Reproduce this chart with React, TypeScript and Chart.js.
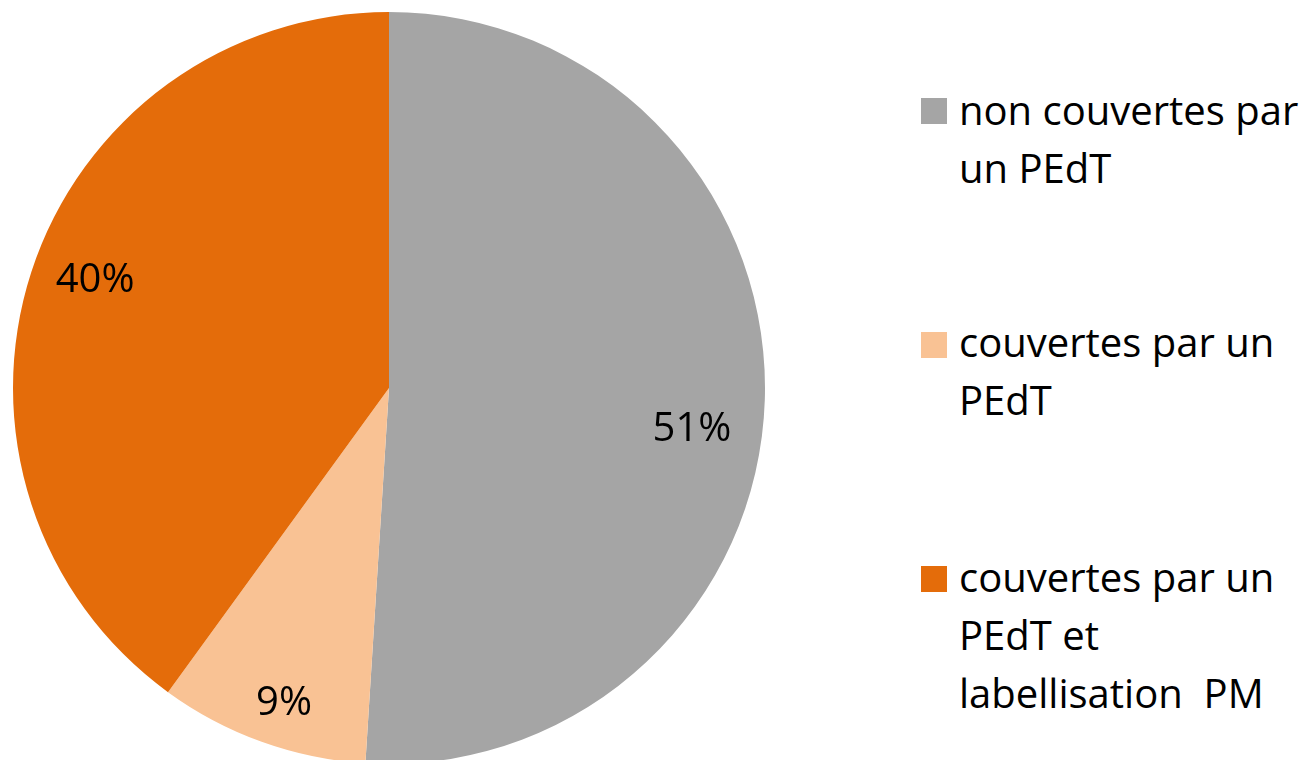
import React, { useEffect, useRef } from "react";
import { Chart, registerables } from "chart.js";

Chart.register(...registerables);

const categories = [
  "non couvertes par un PEdT",
  "couvertes par un PEdT",
  "couvertes par un PEdT et labellisation PM",
];
const values = [51, 9, 40];
const valueLabels = ["51%", "9%", "40%"];
const legendLines = [
  ["non couvertes par", "un PEdT"],
  ["couvertes par un", "PEdT"],
  ["couvertes par un", "PEdT et", "labellisation\u00a0 PM"],
];
const colors = ["#A5A5A5", "#F9C294", "#E46C0A"];

// label placement style (angle nudge in degrees, radial fraction)
const labelAngleShift = [5.35, -1.25, 2.6];
const labelRadial = [0.812, 0.878, 0.835];

const FONT = "'Open Sans', 'DejaVu Sans', sans-serif";

const labelPlugin = {
  id: "sliceLabels",
  afterDatasetsDraw(chart: any) {
    const ctx = chart.ctx;
    const meta = chart.getDatasetMeta(0);
    ctx.save();
    ctx.font = `40px ${FONT}`;
    ctx.fillStyle = "#000000";
    ctx.textAlign = "center";
    ctx.textBaseline = "alphabetic";
    meta.data.forEach((arc: any, i: number) => {
      const p = arc.getProps(["x", "y", "startAngle", "endAngle", "outerRadius"], true);
      const mid = (p.startAngle + p.endAngle) / 2 + (labelAngleShift[i] * Math.PI) / 180;
      const r = p.outerRadius * labelRadial[i];
      const x = p.x + Math.cos(mid) * r;
      const y = p.y + Math.sin(mid) * r;
      ctx.fillText(valueLabels[i], x, y + 14.5);
    });
    ctx.restore();
  },
};

export default function App() {
  const canvasRef = useRef<HTMLCanvasElement | null>(null);

  useEffect(() => {
    if (!canvasRef.current) return;
    const chart = new Chart(canvasRef.current, {
      type: "pie",
      data: {
        labels: categories,
        datasets: [
          {
            data: values,
            backgroundColor: colors,
            borderWidth: 0,
          },
        ],
      },
      options: {
        animation: false,
        responsive: false,
        layout: { padding: { left: 12, top: 12, right: 12, bottom: 12 } },
        plugins: {
          legend: { display: false },
          tooltip: { enabled: false },
        },
      },
      plugins: [labelPlugin],
    });
    return () => chart.destroy();
  }, []);

  const squareTops = [98, 332, 566];
  const textTops = [80.5, 312.5, 547.5];

  return (
    <div
      style={{
        position: "fixed",
        left: 0,
        top: 0,
        width: 1314,
        height: 760,
        overflow: "hidden",
        background: "#ffffff",
      }}
    >
      <canvas
        ref={canvasRef}
        width={778}
        height={776}
        style={{ position: "absolute", left: 0, top: 0, width: 778, height: 776 }}
      />
      {legendLines.map((lines, i) => (
        <React.Fragment key={i}>
          <div
            style={{
              position: "absolute",
              left: 921,
              top: squareTops[i],
              width: 26,
              height: 26,
              background: colors[i],
            }}
          />
          <div
            style={{
              position: "absolute",
              left: 959,
              top: textTops[i],
              fontFamily: FONT,
              fontSize: 40,
              lineHeight: "58px",
              color: "#000000",
              whiteSpace: "nowrap",
            }}
          >
            {lines.map((l, j) => (
              <div key={j}>{l}</div>
            ))}
          </div>
        </React.Fragment>
      ))}
    </div>
  );
}
